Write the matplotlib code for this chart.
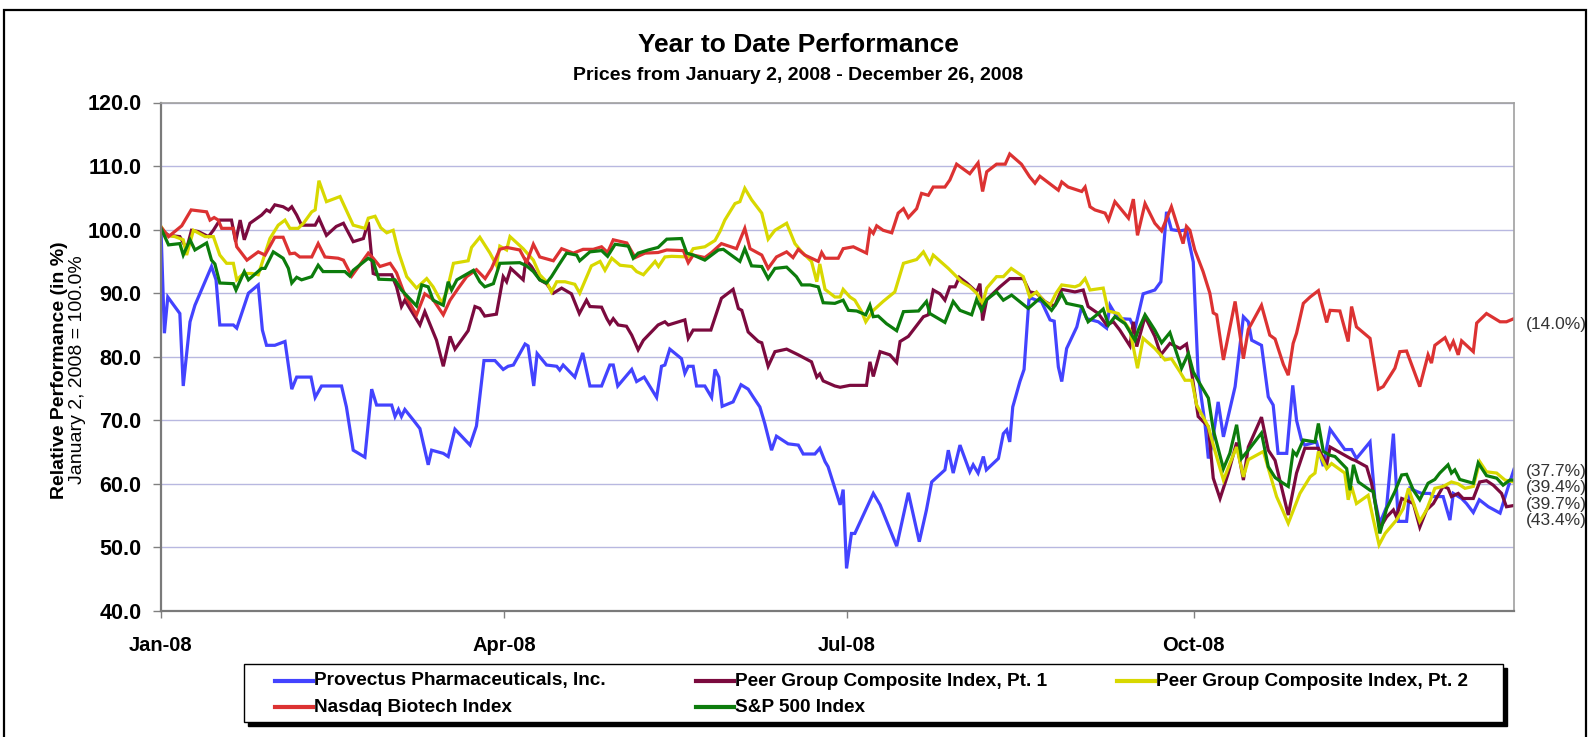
import numpy as np
import pandas as pd
import matplotlib
matplotlib.use('Agg')
import matplotlib.pyplot as plt
from matplotlib.patches import Rectangle
from matplotlib.lines import Line2D

plt.rcParams['font.family'] = ['Liberation Sans', 'DejaVu Sans']

# (days after Jan 2 2008, relative performance in %)
provectus = [
    (0, 100.0), (0.9, 83.7), (1.8, 89.4), (5, 86.8), (5.9, 75.4), (7.7, 85.5), (9, 88.1),
    (13.4, 94.2), (14.6, 92.1), (15.6, 85.0), (19.2, 85.0), (20.1, 84.5), (23.2, 90.0),
    (25.8, 91.3), (26.9, 84.2), (28, 81.8), (30.2, 81.8), (32.9, 82.4), (34.7, 74.9),
    (36, 76.8), (39.8, 76.8), (40.9, 73.6), (42.6, 75.4), (47.9, 75.4), (49.2, 72.1),
    (51, 65.3), (54.1, 64.2), (55.9, 74.9), (57.2, 72.4), (61.2, 72.4), (62.1, 70.6),
    (63, 71.7), (63.8, 70.6), (64.7, 71.7), (67, 70.0), (68.7, 68.7), (70.9, 63.0),
    (71.8, 65.3), (74.9, 64.8), (76.2, 64.3), (78, 68.6), (82, 66.1), (83.7, 69.1),
    (85.7, 79.4), (88.6, 79.4), (90.8, 78.0), (92.1, 78.5), (93.5, 78.7), (96.6, 82.0),
    (97.4, 81.7), (98.9, 75.4), (99.8, 80.5), (102.3, 78.7), (105, 78.5), (105.8, 77.9),
    (106.7, 78.7), (109.8, 76.8), (111.9, 80.6), (113.8, 75.4), (116.9, 75.4), (119.1, 78.7),
    (120, 78.7), (121.2, 75.4), (124.9, 78.0), (126.2, 76.1), (128.2, 76.8), (131.5, 73.6),
    (132.8, 78.5), (133.7, 78.7), (135, 81.2), (138.1, 79.7), (139, 77.4), (139.9, 78.5),
    (141.2, 78.5), (142.1, 75.4), (144.3, 75.4), (146.1, 73.6), (147, 78.0), (148, 76.8),
    (148.9, 72.2), (151.8, 72.9), (153.9, 75.6), (155.8, 74.9), (157.1, 73.7), (158.9, 72.1),
    (160.2, 69.5), (162, 65.3), (163.3, 67.5), (166.4, 66.3), (169.1, 66.1), (170.4, 64.7),
    (173.5, 64.7), (174.8, 65.6), (176.2, 63.5), (177, 62.7), (180.2, 56.7), (181, 59.1),
    (181.9, 46.7), (183.2, 52.2), (184.1, 52.2), (189, 58.5), (190.8, 56.7), (195.2, 50.2),
    (198.3, 58.6), (201.2, 50.9), (203.1, 55.9), (204.5, 60.3), (208, 62.2), (208.9, 65.3),
    (210.2, 61.7), (212, 66.1), (214.6, 61.9), (215.5, 63.0), (216.8, 61.7), (218.2, 64.3),
    (219, 62.2), (222.2, 64.0), (223.5, 67.9), (224.4, 68.5), (225.2, 66.6), (226, 72.1),
    (227.9, 76.1), (229, 78.0), (230.3, 89.0), (231, 89.2), (232.3, 88.9), (233.6, 88.7),
    (235.9, 85.8), (237, 85.6), (238.1, 78.4), (239, 76.1), (240.3, 81.3), (243, 84.7),
    (244.3, 87.9), (245.6, 86.0), (248.7, 85.5), (250.9, 84.5), (251.8, 88.1), (253.1, 86.8),
    (254.4, 86.0), (257.1, 85.9), (258.4, 84.3), (260.6, 89.9), (263.7, 90.5), (265.3, 91.8),
    (266.8, 102.8), (268.1, 100.0), (270.4, 99.8), (272.1, 100.0), (273.9, 94.9), (275.2, 77.1),
    (277, 69.5), (277.9, 64.0), (278.8, 65.8), (280.5, 72.9), (281.9, 67.4), (285, 75.3),
    (287.2, 86.3), (288.5, 85.5), (289.4, 82.6), (292, 81.8), (293.8, 73.7), (295.1, 72.4),
    (296.4, 64.8), (298.7, 64.8), (300.3, 75.5), (301.3, 70.0), (302.6, 66.9), (303.5, 66.1),
    (306.6, 66.6), (308.4, 62.8), (310.2, 68.6), (314.1, 65.4), (315.9, 65.4), (317.2, 64.0),
    (319.4, 65.6), (320.8, 66.6), (322.1, 57.5), (323.4, 53.8), (325.2, 56.4), (327, 67.9),
    (328.3, 54.1), (330.5, 54.1), (331.4, 59.3), (333.2, 58.8), (334.5, 58.5), (336.7, 58.5),
    (337.6, 58.0), (340.2, 58.0), (342, 54.3), (342.9, 58.5), (345.1, 57.7), (346.4, 56.9),
    (348.2, 55.5), (349.8, 57.5), (352.2, 56.4), (355.3, 55.4), (357.5, 59.6), (359, 62.3),
]

peer_pt1 = [
    (0, 100.0), (2, 99.1), (5, 98.9), (6.8, 97.0), (8.1, 99.9), (9.9, 99.7), (12.6, 98.9),
    (13.9, 99.9), (15.6, 101.5), (18.7, 101.5), (19.8, 98.1), (21, 101.5), (22.1, 98.4),
    (23.6, 101.0), (26.7, 102.3), (28, 103.1), (28.9, 102.8), (30.2, 103.9), (32.4, 103.6),
    (33.8, 103.1), (34.7, 103.6), (36, 102.3), (37.3, 100.7), (40.9, 100.7), (41.9, 101.8),
    (43.9, 99.1), (46.5, 100.5), (48.4, 101.0), (51, 98.1), (53.7, 98.6), (55, 101.2),
    (56.3, 93.1), (57.2, 92.9), (61.2, 92.9), (62.5, 91.0), (63.8, 87.9), (64.7, 88.9),
    (68.7, 85.0), (70, 87.1), (73.1, 82.6), (74.9, 78.5), (76.7, 83.2), (78, 81.2),
    (81.5, 84.1), (83.3, 87.9), (84.6, 87.6), (85.9, 86.4), (89, 86.7), (90.8, 92.6),
    (91.7, 91.8), (92.8, 93.9), (96.1, 92.1), (96.8, 95.2), (98.3, 94.2), (100.5, 92.1),
    (102.3, 91.5), (104.1, 90.0), (106.3, 90.8), (108.9, 89.9), (111, 86.8), (112.9, 88.9),
    (113.8, 87.9), (116.9, 87.8), (118.3, 86.0), (119.1, 85.2), (120, 86.0), (121.3, 85.0),
    (123.5, 84.8), (124.9, 83.4), (126.6, 81.1), (128, 82.6), (131.9, 85.0), (133.7, 85.5),
    (134.6, 85.0), (139, 85.8), (139.9, 82.9), (141.2, 84.2), (145.9, 84.2), (148.7, 89.2),
    (151.8, 90.6), (153.2, 87.6), (154.1, 87.3), (155.8, 83.9), (158.5, 82.4), (159.4, 82.2),
    (161.1, 78.5), (162.9, 80.8), (166, 81.2), (169.1, 80.3), (172.6, 79.2), (174, 76.8),
    (174.8, 77.3), (175.7, 76.2), (178.8, 75.4), (180.2, 75.2), (182.8, 75.5), (187.2, 75.5),
    (188.1, 79.2), (189, 76.9), (190.8, 80.8), (193.4, 80.3), (195.2, 79.1), (196.1, 82.4),
    (198.3, 83.2), (202.3, 86.3), (203.6, 86.6), (204.9, 90.5), (206.7, 89.9), (208, 88.9),
    (209.3, 91.0), (210.7, 91.0), (211.8, 92.5), (213.8, 91.6), (216.4, 90.2), (217.3, 91.5),
    (218, 85.7), (219.1, 89.0), (222.6, 91.0), (225.2, 92.3), (228.8, 92.3), (230.5, 90.2),
    (232.3, 90.0), (234.5, 88.7), (236.3, 88.1), (237.2, 88.1), (239, 90.6), (242.5, 90.2),
    (244.7, 90.5), (246, 87.9), (248.7, 86.8), (250.9, 85.0), (252.7, 85.5), (254.4, 84.2),
    (257.1, 81.7), (258, 85.5), (258.9, 81.6), (261.1, 86.3), (263.7, 83.2), (265.3, 80.3),
    (267.7, 82.1), (270.4, 81.3), (272.1, 82.0), (273.5, 77.4), (275.2, 70.6), (277.9, 69.0),
    (279.2, 60.9), (281, 57.7), (283.2, 61.7), (285.4, 66.5), (287.2, 60.6), (288.5, 65.8),
    (292, 70.5), (293.8, 65.3), (295.6, 63.7), (297.5, 59.0), (299.1, 55.1), (301.3, 61.7),
    (303.5, 65.6), (307.1, 65.6), (309.3, 63.0), (310.2, 65.8), (314.1, 64.5), (315.9, 63.9),
    (316.8, 63.7), (319.9, 62.7), (321.2, 60.1), (323.4, 53.0), (325.2, 54.8), (327, 55.9),
    (327.8, 54.8), (329.2, 57.7), (330.5, 57.4), (332.3, 56.9), (334, 53.2), (335.8, 55.9),
    (337.6, 56.9), (340.2, 59.6), (341.5, 59.3), (342.4, 58.0), (344.2, 58.5), (345.5, 57.7),
    (348.2, 57.7), (349.9, 60.3), (351.7, 60.5), (353.5, 59.8), (355.7, 58.5), (357, 56.4),
    (359, 56.6),
]

peer_pt2 = [
    (0, 100.5), (1.5, 99.1), (3.7, 98.9), (5.9, 98.4), (6.8, 96.0), (8.6, 99.9), (11.7, 98.9),
    (13.9, 98.9), (15.6, 96.0), (17.4, 94.7), (19.2, 94.7), (20.1, 92.1), (21.9, 93.1),
    (24.1, 93.1), (25.8, 92.9), (28.9, 98.6), (31.1, 100.7), (32.9, 101.5), (34.2, 100.2),
    (36.4, 100.2), (37.8, 101.0), (40, 102.8), (40.9, 103.1), (41.9, 107.7), (43.9, 104.4),
    (47.5, 105.2), (51, 100.7), (54.1, 100.2), (55, 101.8), (56.8, 102.1), (58.3, 100.3),
    (59.9, 99.5), (61.6, 99.9), (63, 96.5), (65.2, 92.6), (67.8, 90.8), (70.5, 92.3),
    (72.2, 91.0), (74.5, 88.5), (75.8, 90.2), (77.6, 94.7), (81.5, 95.1), (82.4, 97.2),
    (84.6, 98.8), (87.3, 96.3), (89, 94.4), (89.9, 97.4), (91.7, 96.8), (92.6, 98.9),
    (96.1, 97.0), (98.8, 95.2), (100.5, 92.9), (102.3, 91.8), (103.6, 90.2), (105, 91.8),
    (107.2, 91.8), (109.8, 91.4), (111.1, 90.0), (114.2, 94.3), (116.5, 95.0), (117.8, 93.6),
    (119.6, 95.5), (121.8, 94.4), (124.9, 94.2), (126.2, 93.4), (128, 92.9), (131.1, 95.0),
    (132, 94.2), (133.7, 95.7), (135.5, 95.8), (139.9, 95.7), (141.2, 97.0), (144.3, 97.3),
    (147, 98.3), (148.3, 99.7), (149.6, 101.5), (152.3, 104.1), (153.6, 104.4), (154.9, 106.5),
    (156.7, 104.7), (159.4, 102.6), (161.1, 98.5), (162.9, 99.9), (166, 101.0), (168.2, 97.8),
    (170, 96.5), (172.6, 95.0), (174, 91.8), (174.8, 94.6), (176.2, 90.6), (178.8, 89.4),
    (180.2, 89.4), (181, 90.6), (182.8, 89.4), (184.1, 88.9), (185.9, 87.1), (187, 85.5),
    (189, 87.3), (191.6, 88.7), (194.7, 90.2), (197, 94.7), (200.5, 95.3), (202.3, 96.5),
    (204, 94.7), (204.9, 96.0), (208.9, 93.9), (211.1, 92.6), (212.4, 91.8), (214.6, 91.0),
    (216.4, 90.0), (218, 88.4), (219.1, 90.8), (221.7, 92.6), (223.5, 92.6), (225.6, 93.9),
    (228.8, 92.6), (230.5, 89.4), (232.3, 90.2), (234, 88.9), (235.9, 88.1), (237.5, 90.0),
    (239, 91.3), (242.5, 91.0), (243.8, 91.3), (245.2, 92.3), (246.5, 90.5), (250, 90.8),
    (251.3, 87.2), (254, 86.8), (257.1, 84.2), (259.1, 78.2), (260.6, 82.9), (263.7, 81.3),
    (266.4, 79.5), (268.1, 79.7), (270.4, 77.6), (271.7, 76.3), (273.5, 76.3), (274.8, 72.4),
    (277.9, 69.0), (279.6, 65.3), (281.9, 60.6), (283.6, 63.2), (285.4, 65.8), (287.2, 61.1),
    (288.5, 63.8), (292.5, 65.1), (294.7, 60.6), (296, 58.0), (297.5, 56.0), (299.1, 53.8),
    (302.2, 58.5), (304.9, 61.1), (306.2, 61.7), (307.1, 65.1), (309.3, 62.4), (310.6, 63.2),
    (314.1, 61.7), (315, 57.5), (315.9, 59.6), (317.2, 56.9), (320.3, 58.2), (321.6, 54.6),
    (323.2, 50.4), (324.8, 52.2), (327.8, 54.3), (329.6, 56.1), (331, 59.3), (334, 54.1),
    (335.8, 55.9), (338, 59.3), (340.2, 59.6), (342.4, 60.3), (344.2, 60.0), (346, 59.3),
    (348.2, 59.6), (349.9, 63.5), (351.7, 61.9), (354.4, 61.7), (356.6, 60.6), (359, 60.3),
]

nasdaq_biotech = [
    (0, 100.4), (2, 98.9), (5.5, 100.6), (8, 103.1), (12.1, 102.8), (13, 101.5), (14.1, 101.9),
    (15.2, 101.5), (16.1, 100.2), (19.2, 100.2), (20.1, 97.3), (22.8, 95.2), (25.8, 96.5),
    (27.6, 96.0), (30.2, 98.8), (32.4, 98.8), (34.2, 96.2), (35.5, 96.3), (36.8, 95.7),
    (40, 95.7), (41.7, 97.8), (43.5, 95.7), (47, 95.5), (48.4, 95.2), (50.6, 92.7), (55, 96.3),
    (56.3, 95.5), (58.1, 94.2), (60.8, 94.7), (62.5, 93.2), (64.7, 89.7), (67.8, 86.6),
    (70, 89.9), (72.2, 89.0), (74.9, 86.6), (76.7, 88.9), (78.9, 90.8), (81.1, 92.6),
    (83.7, 93.7), (86, 92.3), (87.7, 93.9), (89.9, 96.9), (91.7, 97.2), (95.2, 96.8),
    (97, 94.8), (98.8, 97.7), (100.5, 95.7), (104.1, 95.1), (106.3, 97.0), (109.4, 96.3),
    (112, 96.9), (114.7, 96.9), (116.9, 97.3), (118.5, 96.4), (120, 98.4), (123.6, 97.9),
    (125.8, 95.6), (128.4, 96.3), (131.9, 96.4), (134.2, 96.8), (138.6, 96.7), (139.9, 94.8),
    (141.2, 96.0), (144.3, 95.6), (146.1, 96.4), (148.7, 97.8), (152.7, 97.0), (154.9, 100.2),
    (156.3, 97.0), (159.4, 96.0), (161.1, 93.9), (163.3, 95.7), (166, 96.5), (167.7, 95.6),
    (169.1, 96.9), (170.8, 96.0), (174.4, 95.0), (175.3, 96.4), (176.2, 95.5), (179.7, 95.5),
    (181, 97.0), (183.7, 97.3), (187.2, 96.3), (188.1, 100.0), (189, 99.4), (189.9, 100.6),
    (191.6, 99.9), (193.9, 99.5), (195.6, 102.6), (197, 103.3), (198.3, 101.9), (200.5, 103.3),
    (201.8, 105.7), (203.6, 105.4), (204.9, 106.7), (208, 106.7), (209.3, 107.8), (211.1, 110.3),
    (214.6, 108.8), (216.8, 110.5), (218, 106.0), (219.1, 109.1), (221.7, 110.3), (224, 110.3),
    (225.2, 111.9), (228.3, 110.3), (230.5, 108.3), (231.9, 107.3), (233.2, 108.4), (236.3, 107.0),
    (238.1, 106.2), (239, 107.5), (240.7, 106.7), (244.3, 106.0), (245.2, 106.7), (246.5, 103.6),
    (247.8, 103.1), (250.5, 102.6), (251.4, 101.5), (253.1, 104.4), (256.7, 101.8), (258, 104.8),
    (259.1, 99.1), (261.1, 104.1), (263.7, 101.0), (265.5, 99.8), (268.1, 103.6), (269.9, 100.2),
    (271.2, 97.8), (272.1, 100.5), (273, 99.9), (274.3, 96.8), (276.5, 93.4), (278.3, 90.0),
    (279.2, 86.9), (280.1, 86.6), (281.9, 79.5), (285, 88.7), (287.2, 79.7), (288.5, 84.3),
    (292, 88.1), (294.2, 83.4), (295.6, 82.8), (297.8, 78.8), (299.1, 77.1), (300.4, 82.1),
    (301.3, 83.7), (303.1, 88.4), (304.9, 89.4), (307.1, 90.4), (309.3, 85.4), (310.2, 87.3),
    (312.8, 87.2), (315, 82.4), (315.9, 87.9), (317.2, 84.7), (320.8, 82.9), (323, 74.9),
    (324.3, 75.3), (327.4, 78.2), (328.7, 80.8), (330.5, 80.9), (334, 75.3), (336.2, 80.3),
    (337.1, 79.0), (338, 81.8), (340.7, 83.0), (342, 81.3), (342.9, 82.4), (344.2, 80.3),
    (345.1, 82.5), (348.2, 80.8), (349.1, 85.3), (351.7, 86.8), (355.3, 85.5), (357, 85.5),
    (359, 86.0),
]

sp500 = [
    (0, 100.2), (2, 97.6), (5, 97.8), (5.9, 96.0), (7.7, 98.4), (9, 96.8), (12.1, 97.9),
    (13.4, 95.2), (14.3, 94.6), (15.6, 91.6), (19.2, 91.5), (19.9, 90.5), (22.1, 93.4),
    (23.2, 92.1), (26.7, 93.9), (27.6, 93.9), (29.8, 96.5), (32.4, 95.5), (33.8, 93.9),
    (34.7, 91.6), (36, 92.5), (37.3, 92.1), (40, 92.6), (41.7, 94.4), (43, 93.4), (48.8, 93.4),
    (50.1, 92.7), (51, 93.6), (55, 95.5), (56.3, 95.0), (57.8, 92.2), (62.1, 92.1), (63.8, 90.5),
    (67.8, 88.0), (69.2, 91.3), (70.9, 91.0), (72.2, 88.9), (74.9, 88.1), (76.2, 91.8),
    (77.1, 90.5), (78.5, 92.1), (82.9, 93.6), (84.6, 91.8), (85.9, 91.0), (88.2, 91.5),
    (89.9, 94.7), (95.2, 94.8), (97, 94.3), (98.8, 93.4), (100.5, 92.1), (102.3, 91.6),
    (103.6, 92.6), (105.4, 94.3), (107.6, 96.3), (110.3, 96.0), (111.1, 95.1), (113.8, 96.5),
    (116.9, 96.7), (118.5, 95.8), (120.5, 97.7), (124, 97.4), (125.3, 95.5), (126.6, 96.3),
    (129.3, 96.8), (131.9, 97.2), (134.2, 98.5), (138.1, 98.6), (139.5, 96.3), (141.2, 96.0),
    (144.3, 95.2), (147.9, 96.8), (149.2, 96.9), (153.6, 95.0), (154.9, 97.0), (156.7, 94.3),
    (159.4, 94.2), (161.1, 92.3), (162.9, 93.9), (166, 94.1), (168.6, 92.6), (170, 91.3),
    (172.2, 91.3), (174.4, 91.0), (175.7, 88.5), (178.8, 88.4), (181, 88.9), (182.4, 87.3),
    (184.6, 87.2), (187, 86.6), (188.1, 88.1), (189, 86.3), (190.3, 86.4), (192.5, 85.2),
    (195.2, 84.1), (197, 87.1), (201, 87.2), (203.1, 88.7), (204, 86.8), (208, 85.4),
    (210.2, 88.7), (212, 87.3), (215.1, 86.6), (216.4, 89.0), (217.7, 87.3), (219.1, 89.0),
    (221.7, 90.2), (223.5, 88.9), (225.7, 89.7), (230.1, 87.6), (233.2, 89.2), (236.3, 87.3),
    (237.5, 88.3), (239, 89.9), (240.3, 88.4), (244.3, 87.9), (246, 85.5), (248.3, 86.6),
    (250, 87.5), (251.4, 85.0), (253.1, 86.3), (255.8, 85.2), (258.4, 82.6), (259.3, 84.2),
    (261.1, 86.6), (263.7, 84.2), (265.5, 82.2), (267.7, 83.8), (270.8, 78.2), (272.6, 80.5),
    (273.9, 77.6), (276.1, 75.3), (277.9, 73.5), (279.2, 68.5), (281.9, 62.4), (283.6, 64.8),
    (285.4, 69.3), (286.7, 64.0), (288.5, 65.3), (292, 68.0), (293.8, 62.7), (295.6, 61.0),
    (297.5, 60.2), (299.1, 59.6), (300.4, 65.1), (301.3, 64.5), (303.1, 66.9), (306.2, 66.6),
    (307.1, 69.5), (308.4, 65.1), (310.2, 64.5), (311.5, 64.3), (314.6, 62.4), (315.5, 59.0),
    (316.4, 63.0), (317.7, 60.3), (320.8, 59.0), (321.7, 58.8), (323.4, 52.2), (325.2, 56.1),
    (327.4, 58.8), (329.2, 61.4), (330.5, 61.5), (332.3, 59.0), (334, 57.5), (336.2, 60.1),
    (338, 60.7), (339.3, 61.7), (341.5, 63.0), (342.4, 61.7), (343.3, 62.2), (344.6, 60.7),
    (348.2, 60.1), (349.5, 63.3), (351.7, 61.3), (354.4, 60.9), (356.1, 59.8), (357.9, 60.6),
    (359, 60.6),
]

series_names = ['Provectus Pharmaceuticals, Inc.', 'Peer Group Composite Index, Pt. 1',
                'Peer Group Composite Index, Pt. 2', 'Nasdaq Biotech Index', 'S&P 500 Index']
series_data = [provectus, peer_pt1, peer_pt2, nasdaq_biotech, sp500]
series_colors = ['#4343ff', '#7b0a3e', '#d8d800', '#dc3232', '#0c7c0c']

start_date = pd.Timestamp('2008-01-02')
end_date = pd.Timestamp('2008-12-26')
tick_dates = ['2008-01-02', '2008-04-02', '2008-07-02', '2008-10-02']
tick_labels = ['Jan-08', 'Apr-08', 'Jul-08', 'Oct-08']

W, H = 1590, 737
fig = plt.figure(figsize=(W / 100, H / 100), dpi=100)
ax = fig.add_axes([161 / W, 1 - 611 / H, (1514 - 161) / W, (611 - 102.5) / H])


def fx(px):
    return px / W


def fy(py):
    return 1 - py / H


for name, data, color in zip(series_names, series_data, series_colors):
    days, vals = zip(*data)
    dates = start_date + pd.to_timedelta(np.array(days), unit='D')
    ax.plot(dates, vals, color=color, lw=2.3, label=name, solid_joinstyle='miter')

ax.set_xlim(start_date, end_date)
ax.set_ylim(40, 120)
ax.set_yticks(np.arange(40, 121, 10))
ax.set_yticklabels([f'{v:.1f}' for v in np.arange(40, 121, 10)], fontweight='bold', fontsize=15.5)
ax.set_xticks(pd.to_datetime(tick_dates))
ax.set_xticklabels(tick_labels, fontweight='bold', fontsize=14.5)
ax.tick_params(axis='y', length=6, width=1, color='#808080', pad=8)
ax.tick_params(axis='x', length=5, width=1, color='#808080', pad=13)
ax.grid(axis='y', color='#b8b8e0', lw=1)
ax.set_axisbelow(True)
for side in ['left', 'bottom']:
    ax.spines[side].set_color('#7a7a7a')
    ax.spines[side].set_linewidth(1.6)
for side in ['top', 'right']:
    ax.spines[side].set_color('#a0a0a0')
    ax.spines[side].set_linewidth(1.2)

# final % change labels on the right
finals = sorted([d[-1][1] for d in series_data], reverse=True)
ax.text(1.009, finals[0] - 0.9, f'({100 - finals[0]:.1f}%)', transform=ax.get_yaxis_transform(),
        va='center', ha='left', fontsize=12.5, color='#333333')
for i, v in enumerate(finals[1:]):
    ax.text(1.009, finals[1] - 0.3 - i * 2.6, f'({100 - v:.1f}%)',
            transform=ax.get_yaxis_transform(), va='center', ha='left', fontsize=12.5,
            color='#333333')

fig.text(fx(798), fy(45), 'Year to Date Performance', ha='center', va='center',
         fontsize=19, fontweight='bold')
fig.text(fx(798), fy(75), 'Prices from January 2, 2008 - December 26, 2008', ha='center',
         va='center', fontsize=14, fontweight='bold')
fig.text(fx(59), fy(370), 'Relative Performance (in %)', rotation=90, ha='center',
         va='center', fontsize=14, fontweight='bold')
fig.text(fx(77), fy(370), 'January 2, 2008 = 100.0%', rotation=90, ha='center',
         va='center', fontsize=14)

# legend box drawn Excel style: fixed-width columns, black drop shadow
box_l, box_r, box_t, box_b = 244, 1503, 664, 722
fig.add_artist(Rectangle((fx(box_l + 4), fy(box_b + 4)), (box_r - box_l) / W, (box_b - box_t) / H,
                         transform=fig.transFigure, facecolor='black', edgecolor='black', lw=1))
fig.add_artist(Rectangle((fx(box_l), fy(box_b)), (box_r - box_l) / W, (box_b - box_t) / H,
                         transform=fig.transFigure, facecolor='white', edgecolor='black', lw=1))
legend_slots = [(0, 0), (0, 1), (0, 2), (1, 0), (1, 1)]  # (row, col) per series
col_x0, col_w, row_y0, row_h, handle_w = 275, 421, 681, 26, 38
for (row, col), name, color in zip(legend_slots, series_names, series_colors):
    x0 = col_x0 + col * col_w
    y0 = row_y0 + row * row_h
    fig.add_artist(Line2D([fx(x0), fx(x0 + handle_w)], [fy(y0), fy(y0)],
                          transform=fig.transFigure, color=color, lw=3))
    fig.text(fx(x0 + handle_w + 1), fy(y0), name, ha='left', va='center',
             fontsize=13.7, fontweight='bold')

fig.add_artist(Rectangle((fx(4), -0.01), (1586 - 4) / W, 1 - 10 / H + 0.01,
                         transform=fig.transFigure, fill=False, edgecolor='black', lw=1.6))

fig.savefig('out.png', dpi=100)
